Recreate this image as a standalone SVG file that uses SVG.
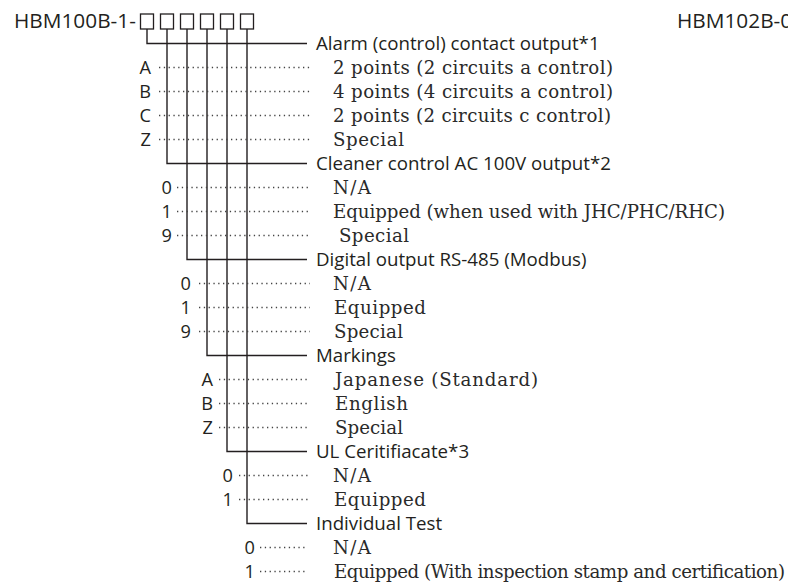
<svg xmlns="http://www.w3.org/2000/svg" width="788" height="584" viewBox="0 0 788 584">
<style>
.t{font-family:"Open Sans","Liberation Sans",sans-serif;font-size:18.7px;fill:#231f20}
.ti{font-family:"Open Sans","Liberation Sans",sans-serif;font-size:20.8px;fill:#231f20}
.s{font-family:"DejaVu Serif","Liberation Serif",serif;font-size:18.2px;fill:#2a2a2a}
.lab{font-family:"Open Sans","Liberation Sans",sans-serif;font-size:18.2px;fill:#231f20;text-anchor:end}
.c{fill:none;stroke:#231f20;stroke-width:1.4}
.d{fill:none;stroke:#444;stroke-width:1.3;stroke-dasharray:1.3 3.5}
.box{fill:#fff;stroke:#231f20;stroke-width:1.3}
</style>
<rect width="788" height="584" fill="#fff"/>
<g id="title">
<text class="ti" x="14" y="28.3">HBM100B-1-</text>
<text class="ti" x="677" y="27.5">HBM102B-0</text>
<rect class="box" x="140.5" y="14" width="13" height="15"/>
<rect class="box" x="160.5" y="14" width="13" height="15"/>
<rect class="box" x="180.5" y="14" width="13" height="15"/>
<rect class="box" x="200.5" y="14" width="13" height="15"/>
<rect class="box" x="220.5" y="14" width="13" height="15"/>
<rect class="box" x="240.5" y="14" width="13" height="15"/>
</g>
<g id="connectors">
<path class="c" d="M147 29V43.5H307"/>
<path class="c" d="M167 29V163.5H307"/>
<path class="c" d="M187 29V259.5H307"/>
<path class="c" d="M207 29V355.5H307"/>
<path class="c" d="M227 29V451.5H307"/>
<path class="c" d="M247 29V523.5H307"/>
</g>
<g id="alarm">
<text class="t" x="316" y="50">Alarm (control) contact output*1</text>
<path class="d" d="M159 67.5H310M159 91.5H310M159 115.5H310M159 139.5H310"/>
<text class="lab" x="151" y="74">A</text>
<text class="lab" x="151" y="98">B</text>
<text class="lab" x="151" y="122">C</text>
<text class="lab" x="151" y="146">Z</text>
<text class="s" x="333" y="74" textLength="280">2 points (2 circuits a control)</text>
<text class="s" x="333" y="98" textLength="280">4 points (4 circuits a control)</text>
<text class="s" x="333" y="122" textLength="278">2 points (2 circuits c control)</text>
<text class="s" x="333" y="146" textLength="71">Special</text>
</g>
<g id="cleaner">
<text class="t" x="316" y="170">Cleaner control AC 100V output*2</text>
<path class="d" d="M177 187.5H310M177 211.5H310M177 235.5H310"/>
<text class="lab" x="172" y="194">0</text>
<text class="lab" x="172" y="218">1</text>
<text class="lab" x="172" y="242">9</text>
<text class="s" x="333" y="194" textLength="38">N/A</text>
<text class="s" x="333" y="218" textLength="392">Equipped (when used with JHC/PHC/RHC)</text>
<text class="s" x="339" y="242" textLength="70">Special</text>
</g>
<g id="digital">
<text class="t" x="316" y="266">Digital output RS-485 (Modbus)</text>
<path class="d" d="M199 283.5H310M199 307.5H310M199 331.5H310"/>
<text class="lab" x="191" y="290">0</text>
<text class="lab" x="191" y="314">1</text>
<text class="lab" x="191" y="338">9</text>
<text class="s" x="333" y="290" textLength="38">N/A</text>
<text class="s" x="334" y="314" textLength="92">Equipped</text>
<text class="s" x="334" y="338" textLength="69">Special</text>
</g>
<g id="markings">
<text class="t" x="316" y="362">Markings</text>
<path class="d" d="M219 379.5H310M219 403.5H310M219 427.5H310"/>
<text class="lab" x="213" y="386">A</text>
<text class="lab" x="213" y="410">B</text>
<text class="lab" x="213" y="434">Z</text>
<text class="s" x="335" y="386" textLength="203">Japanese (Standard)</text>
<text class="s" x="335" y="410" textLength="73">English</text>
<text class="s" x="335" y="434" textLength="68">Special</text>
</g>
<g id="ul">
<text class="t" x="316" y="458">UL Ceritifiacate*3</text>
<path class="d" d="M239 475.5H309M239 499.5H309"/>
<text class="lab" x="233" y="482">0</text>
<text class="lab" x="233" y="506">1</text>
<text class="s" x="333" y="482" textLength="38">N/A</text>
<text class="s" x="334" y="506" textLength="92">Equipped</text>
</g>
<g id="individual">
<text class="t" x="316" y="530">Individual Test</text>
<path class="d" d="M260 547.5H307M260 571.5H307"/>
<text class="lab" x="255" y="554">0</text>
<text class="lab" x="255" y="578">1</text>
<text class="s" x="333" y="554" textLength="38">N/A</text>
<text class="s" x="334" y="578" textLength="451">Equipped (With inspection stamp and certification)</text>
</g>
</svg>
